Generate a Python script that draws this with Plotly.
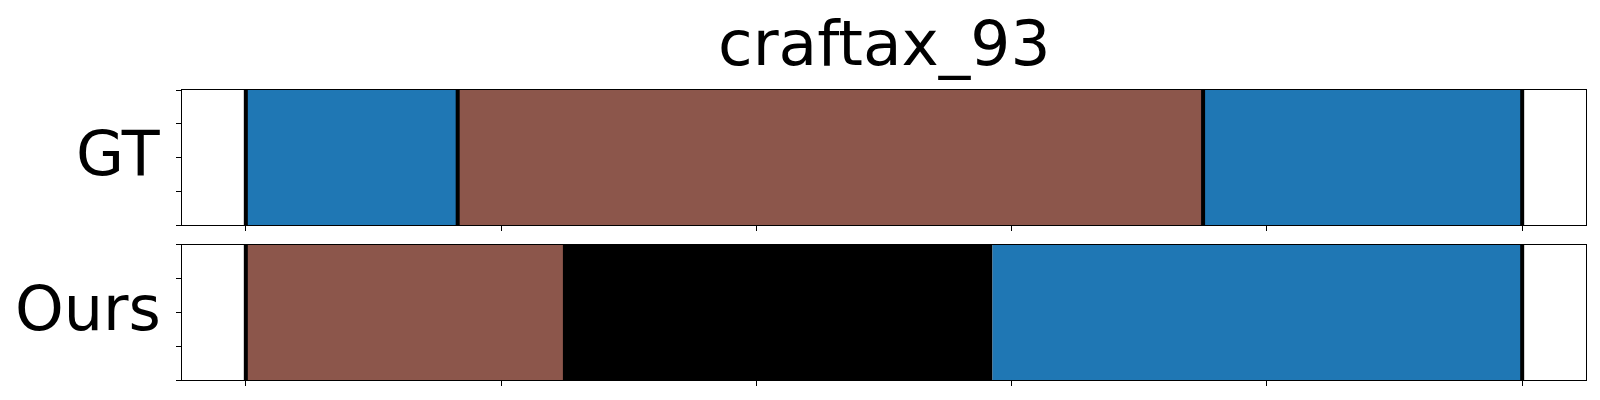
import plotly.graph_objects as go

# ---- data ----
title_text = "craftax_93"
row_labels = ["GT", "Ours"]

gt_starts = [0, 16.6, 75.0]
gt_ends = [16.6, 75.0, 100.0]
gt_colors = ["#1f77b4", "#8c564b", "#1f77b4"]

ours_starts = [0, 25.0, 58.5]
ours_ends = [25.0, 58.5, 100.0]
ours_colors = ["#8c564b", "#000000", "#1f77b4"]

gt_boundaries = [0, 16.6, 75.0, 100.0]
ours_boundaries = [0, 25.0, 58.3, 100.0]

x_ticks = [0, 20, 40, 60, 80, 100]
y_ticks = [0, 0.25, 0.5, 0.75, 1.0]

# ---- figure ----
# page body has an 8px margin, so the figure is sized to fit inside the window
W, H = 1584, 384
ml, mr, mt, mb = 174, 6, 82, 12
fig = go.Figure()

rows = [
    ("x", "y", gt_starts, gt_ends, gt_colors, gt_boundaries),
    ("x2", "y2", ours_starts, ours_ends, ours_colors, ours_boundaries),
]
for xa, ya, s, e, c, b in rows:
    fig.add_trace(go.Bar(
        orientation="h",
        y=[0.5] * len(s),
        base=s,
        x=[ei - si for si, ei in zip(s, e)],
        width=1.0,
        marker=dict(color=c, line=dict(width=0)),
        xaxis=xa, yaxis=ya, showlegend=False, hoverinfo="skip",
    ))
    for bx in b:
        fig.add_trace(go.Scatter(
            x=[bx, bx], y=[0, 1], mode="lines",
            line=dict(color="black", width=4),
            xaxis=xa, yaxis=ya, showlegend=False, hoverinfo="skip",
        ))

ph = H - mt - mb
gap = 19.7
gt_dom = [1 - 135.0 / ph, 1.0]
ours_dom = [0.0, 1 - (135.0 + gap) / ph]

axis_common = dict(
    showgrid=False, zeroline=False, showline=True, linecolor="black",
    linewidth=1, mirror=True, ticks="outside", ticklen=5, tickwidth=1,
    tickcolor="black", showticklabels=False,
)
fig.update_layout(
    width=W, height=H,
    margin=dict(l=ml, r=mr, t=mt, b=mb, autoexpand=False),
    paper_bgcolor="white", plot_bgcolor="white",
    barmode="overlay",
    font=dict(family="DejaVu Sans", color="black"),
    xaxis=dict(domain=[0, 1], range=[-5, 105], tickvals=x_ticks, anchor="y", **axis_common),
    yaxis=dict(domain=gt_dom, range=[0, 1], tickvals=y_ticks, anchor="x", **axis_common),
    xaxis2=dict(domain=[0, 1], range=[-5, 105], tickvals=x_ticks, anchor="y2", matches="x", **axis_common),
    yaxis2=dict(domain=ours_dom, range=[0, 1], tickvals=y_ticks, anchor="x2", **axis_common),
)

annots = [
    dict(text=title_text, xref="paper", yref="paper", x=0.5, y=1.0,
         xanchor="center", yanchor="bottom", yshift=8, showarrow=False,
         font=dict(size=63, family="DejaVu Sans", color="black")),
]
for lbl, dom in zip(row_labels, [gt_dom, ours_dom]):
    annots.append(dict(text=lbl, xref="paper", yref="paper", x=0,
                       y=(dom[0] + dom[1]) / 2, xanchor="right", yanchor="middle",
                       xshift=-19, yshift=4, showarrow=False,
                       font=dict(size=62, family="DejaVu Sans", color="black")))
fig.update_layout(annotations=annots)

fig.write_html("out.html")
